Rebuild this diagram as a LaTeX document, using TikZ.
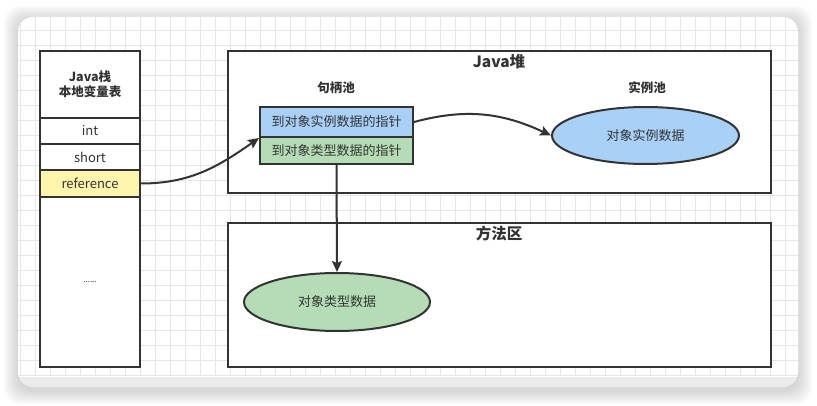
\documentclass[tikz,border=0pt]{standalone}
\usepackage{fontspec}
\setmainfont{Noto Sans CJK SC}
\usetikzlibrary{arrows.meta,shapes.geometric}
\definecolor{refyellow}{HTML}{FFF5AD}
\definecolor{ptrblue}{HTML}{A9D1F7}
\definecolor{ptrgreen}{HTML}{B4DDB5}
\definecolor{inkgray}{HTML}{333333}
\definecolor{gridgray}{HTML}{E6E6E6}
\definecolor{bandgray}{HTML}{EBEBEB}
\tikzset{
  cell/.style={draw=inkgray, line width=2pt, fill=white, minimum width=100pt, inner sep=0pt, text=inkgray, font=\fontsize{13}{15}\selectfont},
  area/.style={draw=inkgray, line width=2pt, fill=white, minimum width=543pt, inner sep=0pt},
  ptr/.style={draw=inkgray, line width=2pt, minimum width=153pt, inner sep=0pt, text=inkgray, font=\fontsize{13}{15}\selectfont},
  blob/.style={ellipse, draw=inkgray, line width=2pt, inner sep=0pt, text=inkgray, font=\fontsize{13}{15}\selectfont},
  title/.style={text=inkgray, font=\bfseries\fontsize{12.5}{15}\selectfont, align=center},
  bigtitle/.style={title, font=\bfseries\fontsize{15.5}{18}\selectfont},
  link/.style={-{Stealth[length=11pt,width=10pt,inset=2pt]}, line width=2pt, draw=inkgray}
}
\begin{document}
\begin{tikzpicture}[x=1pt,y=1pt]
\useasboundingbox (0,0) rectangle (817,-406);
\foreach \s in {14,12,...,2}
  \fill[black, opacity=0.025, rounded corners=16] (18-\s,-17+\s-3) rectangle (798+\s,-387-\s-3);
\fill[bandgray, rounded corners=15] (18,-17) rectangle (798,-387);
\begin{scope}
  \clip[rounded corners=15] (18,-17) rectangle (798,-387);
  \clip (0,0) rectangle (817,-376);
  \fill[white] (0,0) rectangle (817,-406);
  \foreach \gx in {20.7,35.7,...,800} \draw[gridgray, line width=0.7pt] (\gx,-17) -- (\gx,-376);
  \foreach \gy in {15.7,30.7,...,380} \draw[gridgray, line width=0.7pt] (18,-\gy) -- (798,-\gy);
\end{scope}

\node[cell, title, minimum height=67pt] (stackhead) at (90,-84.5) {Java栈\\本地变量表};
\node[cell, minimum height=26pt] (intcell) at (90,-131) {int};
\node[cell, minimum height=26pt] (shortcell) at (90,-157) {short};
\node[cell, minimum height=27pt, fill=refyellow] (refcell) at (90,-183.5) {reference};
\node[cell, minimum height=169.5pt, font=\fontsize{8}{8}\selectfont] (restcell) at (90,-281.75) {......};

\node[area, minimum height=142pt] (heap) at (499.5,-122) {};
\node[bigtitle] (heaptitle) at (499,-62) {Java堆};
\node[title] (handlepool) at (336,-88) {句柄池};
\node[ptr, fill=ptrblue, minimum height=30pt] (toinst) at (336.5,-122) {到对象实例数据的指针};
\node[ptr, fill=ptrgreen, minimum height=27pt] (totype) at (336.5,-150.5) {到对象类型数据的指针};
\node[title] (instpool) at (647,-88) {实例池};
\node[blob, fill=ptrblue, minimum width=187pt, minimum height=57pt] (instdata) at (645.5,-135.5) {对象实例数据};

\node[area, minimum height=143.5pt] (method) at (499.5,-294.75) {};
\node[bigtitle] (methodtitle) at (499,-234) {方法区};
\node[blob, fill=ptrgreen, minimum width=186pt, minimum height=58pt] (typedata) at (337,-302) {对象类型数据};

\draw[link] (refcell.east) to[out=0,in=215] (toinst.south west);
\draw[link] (toinst.east) to[out=15,in=155] (instdata.west);
\draw[link] (totype.south) -- (typedata.north);
\end{tikzpicture}
\end{document}
